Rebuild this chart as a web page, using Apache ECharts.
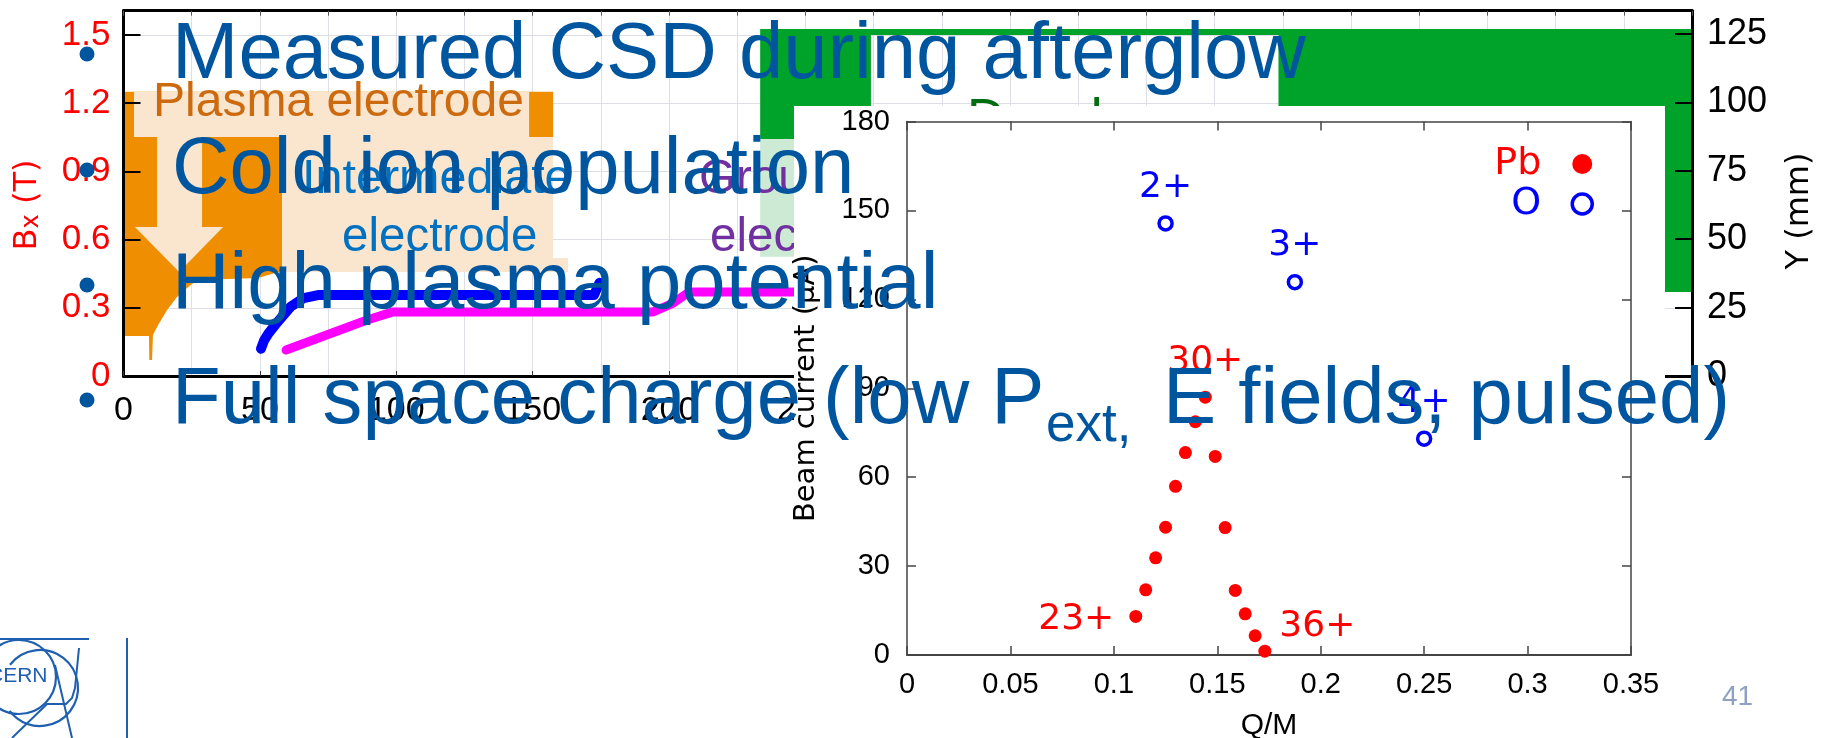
<!DOCTYPE html>
<html><head><meta charset="utf-8">
<style>html,body{margin:0;padding:0;background:#fff;overflow:hidden}#c{width:1829px;height:738px}</style>
<script src="https://cdn.jsdelivr.net/npm/echarts@6/dist/echarts.min.js"></script>
</head><body><div id="c"></div>
<script>
// ---- reference data -------------------------------------------------
const leftTicks = [0, 0.3, 0.6, 0.9, 1.2, 1.5];
const rightTicks = [0, 25, 50, 75, 100, 125];
const zTicks = [0, 50, 100, 150, 200, 250, 300, 350, 400, 450, 500, 550];
const insetXTicks = [0, 0.05, 0.1, 0.15, 0.2, 0.25, 0.3, 0.35];
const insetYTicks = [0, 30, 60, 90, 120, 150, 180];
const blueBeam = [[50.4,0.12],[51.6,0.158],[53.3,0.19],[56.5,0.238],[61.2,0.304],[66,0.343],[71.3,0.356],[77,0.356],[120,0.356],[172.5,0.356],[174.5,0.41]];
const magentaBeam = [[59.6,0.114],[89.3,0.246],[98.8,0.282],[194.2,0.282],[201.5,0.321],[207.4,0.37],[248,0.37]];
const fieldShape = [[0,1.25],[157.5,1.25],[157.5,1.047],[58.1,1.047],[58.1,0.462],[49.3,0.431],[27,0.422],[23.3,0.387],[19.6,0.348],[16,0.29],[12.7,0.224],[10.8,0.18],[10.45,0.07],[9.46,0.07],[9.35,0.176],[0,0.176]];
const steelShape = [[233.4,126.8],[575,126.8],[575,30.7],[556,30.7],[556,98.7],[423.4,98.7],[423.4,124.6],[274,124.6],[274,98.7],[248,98.7],[248,86.6],[233.4,86.6]];
const paleGreenShape = [[233.4,86.6],[248,86.6],[248,43.6],[233.4,43.6]];
const calloutPlasma = [[3.85,1.249],[148.7,1.249],[148.7,1.051],[3.85,1.051]];
const calloutInter = [[58.1,1.051],[157.5,1.051],[157.5,0.519],[163,0.519],[163,0.458],[58.1,0.458]];
const calloutArrow = [[12.3,1.051],[28.8,1.051],[28.8,0.656],[36.5,0.656],[20.4,0.458],[4.2,0.656],[12.3,0.656]];
const pbQM = [0.1106,0.1154,0.1202,0.125,0.1298,0.1346,0.1394,0.1442,0.149,0.1538,0.1587,0.1635,0.1683,0.173];
const pbCurrent = [13,22,32.8,43.1,56.9,68.3,78.7,87,67,43,21.8,13.9,6.5,1.3];
const oQM = [0.125,0.1875,0.25];
const oCurrent = [145.6,125.8,73];
const bullets = ['Measured CSD during afterglow','Cold ion population','High plasma potential'];
// ---- helpers --------------------------------------------------------
const ARIAL='"Liberation Sans"', DJ='"DejaVu Sans"';
const BLUE='#00559f';
function poly(pts,fill,yi,z){
  return {type:'custom',coordinateSystem:'cartesian2d',xAxisIndex:0,yAxisIndex:yi,z:z,silent:true,clip:true,
    data:pts,encode:{x:0,y:1},
    renderItem:(p,api)=>p.dataIndex===0?{type:'polygon',shape:{points:pts.map(q=>api.coord(q))},style:{fill:fill}}:null};
}
function txt(text,x,base,size,color,z,extra){
  return Object.assign({type:'text',x:x,y:base-0.265*size,z:z,silent:true,
    style:{text:text,fontFamily:ARIAL,fontSize:size,fill:color,align:'left',verticalAlign:'middle'}},extra||{});
}
const pbData = pbQM.map((q,i)=>{
  const d={value:[q,pbCurrent[i]]};
  if(i===0) d.label={show:true,formatter:'23+',position:'left',distance:15,offset:[0,3]};
  if(i===7) d.label={show:true,formatter:'30+',position:'top',distance:5,offset:[0,-6]};
  if(i===13) d.label={show:true,formatter:'36+',position:'right',distance:8,offset:[0,-25]};
  return d;
});
const oData = oQM.map((q,i)=>({value:[q,oCurrent[i]],label:{show:true,formatter:(i+2)+'+',position:'top',distance:5,offset:[0,-5]}}));
const LOGO='#1f5fb0';
const graphics=[
  txt('Plasma electrode',153,115,48,'#cc6a10',4),
  txt('Intermediate',302,192,48.5,'#0070c0',4),
  txt('electrode',342,250,47.5,'#0070c0',4),
  txt('Ground',699,192,47.5,'#7030a0',4),
  txt('electrode',710,250,47.5,'#7030a0',4),
  txt('Decel',967,135,53,'#006e10',4),
  {type:'text',x:28,y:205,rotation:Math.PI/2,z:4,silent:true,style:{text:'{a|B}{b|x}{a| (T)}',align:'center',verticalAlign:'middle',
    rich:{a:{fontFamily:DJ,fontSize:32,fill:'#ff0000'},b:{fontFamily:DJ,fontSize:24,fill:'#ff0000',padding:[8,0,0,0]}}}},
  {type:'text',x:1800,y:211,rotation:Math.PI/2,z:4,silent:true,style:{text:'Y (mm)',fontFamily:DJ,fontSize:32,fill:'#000',align:'center',verticalAlign:'middle'}},
  {type:'rect',z:5,silent:true,shape:{x:794,y:106,width:871,height:632},style:{fill:'#fff'}},
  txt(bullets[0],172,77,79.7,BLUE,10),
  txt(bullets[1],172,192,79.7,BLUE,10),
  txt(bullets[2],172,307,79.7,BLUE,10),
  txt('Full space charge (low P',172,422,79.7,BLUE,10),
  txt('ext,',1046,440,53,BLUE,10),
  txt('E fields, pulsed)',1163,422,79.7,BLUE,10),
  ...[54,170,285,400].map(y=>({type:'circle',z:10,silent:true,shape:{cx:87,cy:y,r:7.5},style:{fill:BLUE}})),
  txt('41',1722,705,28,'#8ea0c4',10),
  {type:'circle',z:10,silent:true,shape:{cx:19,cy:677,r:37},style:{fill:'none',stroke:LOGO,lineWidth:2.2}},
  {type:'arc',z:10,silent:true,shape:{cx:40,cy:688,r:38,startAngle:3.8,endAngle:8.78,clockwise:true},style:{fill:'none',stroke:LOGO,lineWidth:2.2}},
  {type:'polyline',z:10,silent:true,shape:{points:[[0,639],[89,639]]},style:{fill:'none',stroke:LOGO,lineWidth:2}},
  {type:'polyline',z:10,silent:true,shape:{points:[[79,648],[75,688],[72,698],[66,704],[47,704],[12,738]]},style:{fill:'none',stroke:LOGO,lineWidth:2}},
  {type:'polyline',z:10,silent:true,shape:{points:[[55,665],[72,738]]},style:{fill:'none',stroke:LOGO,lineWidth:2}},
  {type:'polyline',z:10,silent:true,shape:{points:[[127,638],[127,738]]},style:{fill:'none',stroke:LOGO,lineWidth:2}},
  {type:'text',x:-12,y:676,z:10,silent:true,style:{text:'CERN',fontFamily:ARIAL,fontSize:21,fill:LOGO,align:'left',verticalAlign:'middle'}}
];
const gridLine={show:true,lineStyle:{color:'#dedee6',width:1}};
const hiddenParts={axisLine:{show:false},axisTick:{show:false},axisLabel:{show:false},splitLine:{show:false}};
const option={
  animation:false,
  backgroundColor:'#fff',
  textStyle:{fontFamily:ARIAL},
  grid:[
    {left:123.5,right:137,top:10.7,bottom:362,outerBoundsMode:'none'},
    {left:907,right:198,top:121.5,bottom:83,outerBoundsMode:'none'}
  ],
  xAxis:[
    {gridIndex:0,type:'value',min:0,max:575,interval:50,position:'bottom',z:3,
      axisLine:{show:true,onZero:false,lineStyle:{color:'#000',width:3}},
      axisTick:{show:true,inside:true,length:5,lineStyle:{color:'#333'},customValues:zTicks},
      axisLabel:{show:true,margin:18,fontFamily:ARIAL,fontSize:34,color:'#000',customValues:zTicks,formatter:v=>String(v)},
      splitLine:{show:false}},
    {gridIndex:0,type:'value',min:0,max:575,interval:25,position:'top',z:3,
      axisLine:{show:true,onZero:false,lineStyle:{color:'#000',width:3}},
      axisTick:{show:true,inside:true,length:5,lineStyle:{color:'#555'}},
      axisLabel:{show:false},splitLine:{show:false}},
    Object.assign({gridIndex:0,type:'value',min:0,max:575,interval:25,z:1},hiddenParts,{splitLine:gridLine}),
    {gridIndex:1,type:'value',min:0,max:0.35,interval:0.05,position:'bottom',z:6,
      axisLine:{show:true,onZero:false,lineStyle:{color:'#444',width:2}},
      axisTick:{show:true,inside:true,length:9,lineStyle:{color:'#444',width:1.5},customValues:insetXTicks},
      axisLabel:{show:true,margin:15,fontFamily:ARIAL,fontSize:29,color:'#000',customValues:insetXTicks,formatter:v=>String(v)},
      splitLine:{show:false},
      name:'Q/M',nameLocation:'middle',nameGap:56,nameTextStyle:{fontFamily:ARIAL,fontSize:30,color:'#000'}},
    {gridIndex:1,type:'value',min:0,max:0.35,interval:0.05,position:'top',z:6,
      axisLine:{show:true,onZero:false,lineStyle:{color:'#444',width:1.5}},
      axisTick:{show:true,inside:true,length:9,lineStyle:{color:'#444',width:1.5}},
      axisLabel:{show:false},splitLine:{show:false}}
  ],
  yAxis:[
    {gridIndex:0,type:'value',min:0,max:1.607,position:'left',z:3,
      axisLine:{show:true,onZero:false,lineStyle:{color:'#000',width:3}},
      axisTick:{show:true,inside:true,length:17,lineStyle:{color:'#000',width:2},customValues:leftTicks},
      axisLabel:{show:true,margin:13,padding:[3,0,0,0],fontFamily:ARIAL,fontSize:35,color:'#ff0000',customValues:leftTicks,formatter:v=>String(v)},
      splitLine:{show:false}},
    {gridIndex:0,type:'value',min:0,max:133.5,position:'right',z:3,
      axisLine:{show:true,onZero:false,lineStyle:{color:'#000',width:3}},
      axisTick:{show:true,inside:true,length:17,lineStyle:{color:'#000',width:2},customValues:rightTicks},
      axisLabel:{show:true,margin:15,padding:[3,0,0,0],fontFamily:ARIAL,fontSize:36,color:'#000',customValues:rightTicks,formatter:v=>String(v)},
      splitLine:{show:false}},
    Object.assign({gridIndex:0,type:'value',min:0,max:1.607,z:1},hiddenParts,{splitLine:Object.assign({},gridLine),interval:0.3}),
    {gridIndex:1,type:'value',min:0,max:180,interval:30,position:'left',z:6,
      axisLine:{show:true,onZero:false,lineStyle:{color:'#444',width:1.5}},
      axisTick:{show:true,inside:true,length:9,lineStyle:{color:'#444',width:1.5},customValues:insetYTicks},
      axisLabel:{show:true,margin:17,fontFamily:ARIAL,fontSize:29,color:'#000',customValues:insetYTicks,formatter:v=>String(v)},
      splitLine:{show:false},
      name:'Beam current (µA)',nameLocation:'middle',nameGap:86,nameRotate:90,nameTextStyle:{fontFamily:DJ,fontSize:29,color:'#000'}},
    {gridIndex:1,type:'value',min:0,max:180,interval:30,position:'right',z:6,
      axisLine:{show:true,onZero:false,lineStyle:{color:'#444',width:1.5}},
      axisTick:{show:true,inside:true,length:9,lineStyle:{color:'#444',width:1.5}},
      axisLabel:{show:false},splitLine:{show:false}}
  ],
  legend:{show:true,orient:'vertical',align:'right',right:230,top:140,itemGap:2,z:8,selectedMode:false,itemWidth:20,itemHeight:20,
    data:[{name:'Pb',icon:'circle',textStyle:{color:'#ff0000',fontFamily:DJ,fontSize:38,padding:[0,26,0,0]}},
          {name:'O',icon:'circle',itemStyle:{borderWidth:3.5},textStyle:{color:'#0000ff',fontFamily:DJ,fontSize:38,padding:[0,26,0,0]}}]},
  graphic:{elements:graphics},
  series:[
    poly(steelShape,'#00a32a',1,2),
    poly(paleGreenShape,'#cdebd4',1,2),
    poly(fieldShape,'#ee8e00',0,2),
    poly(calloutPlasma,'#fae6cf',0,2.1),
    poly(calloutInter,'#fae6cf',0,2.1),
    poly(calloutArrow,'#fae6cf',0,2.1),
    {type:'line',name:'Bx',xAxisIndex:0,yAxisIndex:0,data:magentaBeam,showSymbol:false,z:3,silent:true,
      lineStyle:{color:'#ff00ff',width:9,cap:'round',join:'round'}},
    {type:'line',name:'beam',xAxisIndex:0,yAxisIndex:0,data:blueBeam,showSymbol:false,z:3,silent:true,
      lineStyle:{color:'#0000ff',width:10,cap:'round',join:'round'}},
    {type:'scatter',name:'Pb',xAxisIndex:3,yAxisIndex:3,data:pbData,symbol:'circle',symbolSize:13,z:7,clip:false,silent:true,
      itemStyle:{color:'#ff0000',opacity:1},label:{color:'#ff0000',fontFamily:DJ,fontSize:36}},
    {type:'scatter',name:'O',xAxisIndex:3,yAxisIndex:3,data:oData,symbol:'circle',symbolSize:13,z:7,clip:false,silent:true,
      itemStyle:{color:'#fff',borderColor:'#0000ff',borderWidth:3.5,opacity:1},label:{color:'#0000ff',fontFamily:DJ,fontSize:36}}
  ]
};
const chart=echarts.init(document.getElementById('c'),null,{renderer:'canvas',width:1829,height:738});
chart.setOption(option);
</script>
</body></html>
